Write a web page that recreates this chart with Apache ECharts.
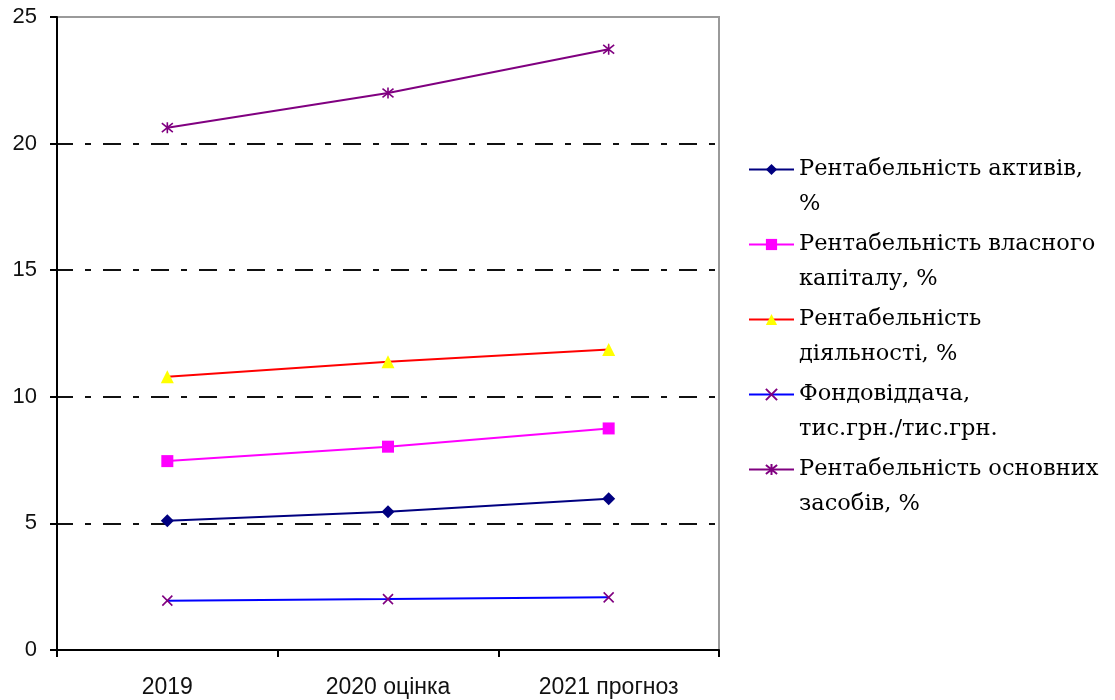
<!DOCTYPE html>
<html>
<head>
<meta charset="utf-8">
<script src="https://cdn.jsdelivr.net/npm/echarts@6/dist/echarts.min.js"></script>
<style>
  html, body { margin: 0; padding: 0; background: #fff; }
  #chart { width: 1115px; height: 700px; }
</style>
</head>
<body>
<div id="chart"></div>
<script>
// Years on the horizontal axis
const categories = ['2019', '2020 оцінка', '2021 прогноз'];

// Indicator values per year
const returnOnAssets = [5.1, 5.46, 5.97];
const returnOnEquity = [7.46, 8.03, 8.75];
const returnOnActivity = [10.79, 11.38, 11.87];
const assetTurnover = [1.95, 2.01, 2.08];
const returnOnFixedAssets = [20.63, 22.0, 23.73];

// Series names and how each wraps in the legend
const seriesNames = [
  'Рентабельність активів, %',
  'Рентабельність власного капіталу, %',
  'Рентабельність діяльності, %',
  'Фондовіддача, тис.грн./тис.грн.',
  'Рентабельність основних засобів, %'
];
const legendLines = [
  ['Рентабельність активів,', '%'],
  ['Рентабельність власного', 'капіталу, %'],
  ['Рентабельність', 'діяльності, %'],
  ['Фондовіддача,', 'тис.грн./тис.грн.'],
  ['Рентабельність основних', 'засобів, %']
];

// Y axis ticks
const yMin = 0, yMax = 25, yStep = 5;

const crossMark = 'path://M1,1L9,9M9,1L1,9';
const starMark = 'path://M1,1L9,9M9,1L1,9M5,0L5,10';

const LH = 35; // legend text line height

const chart = echarts.init(document.getElementById('chart'), null, { renderer: 'canvas' });

function lineSeries(i, data, lineColor, symbol, size, symColor, stroked) {
  return {
    name: seriesNames[i],
    type: 'line',
    data: data,
    symbol: symbol,
    symbolSize: size,
    showAllSymbol: true,
    animation: false,
    lineStyle: { color: lineColor, width: 2 },
    itemStyle: stroked
      ? { color: symColor, borderColor: symColor, borderWidth: 1.6 }
      : { color: symColor, borderWidth: 0 },
    emphasis: { disabled: true }
  };
}

chart.setOption({
  backgroundColor: '#ffffff',
  animation: false,
  grid: {
    left: 57, right: 396, top: 17, bottom: 50,
    show: true, borderColor: '#9a9a9a', borderWidth: 2,
    backgroundColor: 'transparent'
  },
  xAxis: {
    type: 'category',
    data: categories,
    boundaryGap: true,
    axisLine: { show: true, lineStyle: { color: '#000', width: 2 } },
    axisTick: { show: true, length: 7, lineStyle: { color: '#000', width: 2 } },
    axisLabel: { color: '#111', fontSize: 23, fontFamily: 'Liberation Sans, Arial, sans-serif', margin: 26 },
    splitLine: { show: false }
  },
  yAxis: {
    type: 'value',
    min: yMin, max: yMax, interval: yStep,
    axisLine: { show: true, lineStyle: { color: '#000', width: 2 } },
    axisTick: { show: true, length: 7, lineStyle: { color: '#000', width: 2 } },
    axisLabel: { color: '#111', fontSize: 22, fontFamily: 'Liberation Sans, Arial, sans-serif', margin: 20 },
    splitLine: {
      show: true, showMinLine: false, showMaxLine: false,
      lineStyle: { color: '#111', width: 2, type: [18, 12, 6, 12], dashOffset: 2 }
    }
  },
  legend: {
    orient: 'vertical',
    left: 743,
    top: 112,
    itemWidth: 45,
    itemHeight: 14,
    itemGap: -30,
    selectedMode: false,
    data: seriesNames,
    // an empty first row keeps the icon level with the first text row
    formatter: function (name) {
      const i = seriesNames.indexOf(name);
      return '\n' + legendLines[i].join('\n');
    },
    textStyle: {
      color: '#000',
      fontSize: 22.5,
      fontFamily: 'DejaVu Serif, serif',
      lineHeight: LH
    }
  },
  series: [
    lineSeries(0, returnOnAssets, '#000080', 'diamond', 13, '#000080', false),
    lineSeries(1, returnOnEquity, '#ff00ff', 'rect', 12, '#ff00ff', false),
    lineSeries(2, returnOnActivity, '#ff0000', 'triangle', 13, '#ffff00', false),
    lineSeries(3, assetTurnover, '#0000ff', crossMark, 10, '#800080', true),
    lineSeries(4, returnOnFixedAssets, '#800080', starMark, 11, '#800080', true)
  ]
});
</script>
</body>
</html>
